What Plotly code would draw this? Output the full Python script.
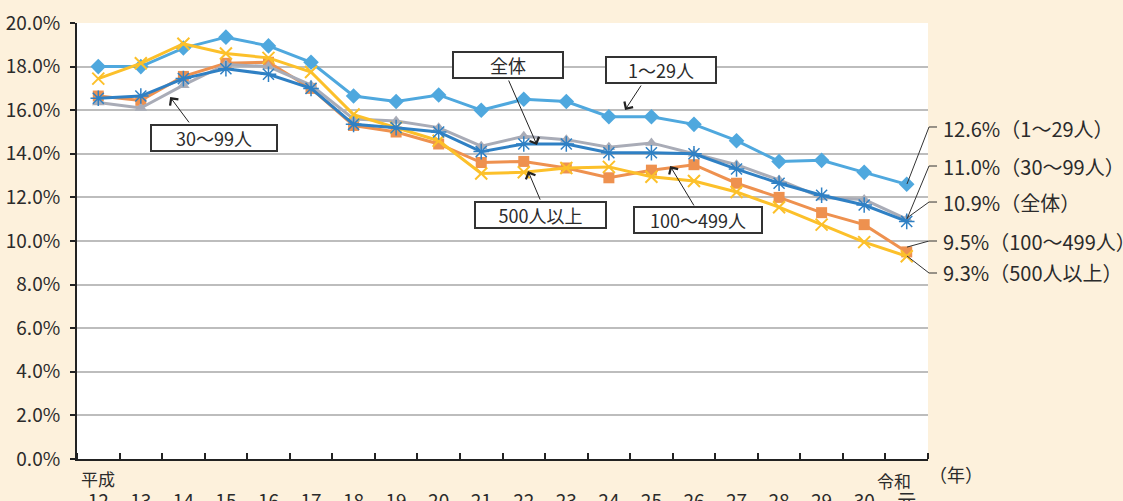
import plotly.graph_objects as go

# 年（平成12年～令和元年）
years = ["12", "13", "14", "15", "16", "17", "18", "19", "20", "21",
         "22", "23", "24", "25", "26", "27", "28", "29", "30", "元"]

# 離職率（%）
rate_1_29 = [18.0, 18.0, 18.85, 19.35, 18.95, 18.2, 16.65, 16.4, 16.7, 16.0,
             16.5, 16.4, 15.7, 15.7, 15.35, 14.6, 13.65, 13.7, 13.15, 12.6]
rate_30_99 = [16.35, 16.1, 17.15, 18.1, 18.0, 17.15, 15.6, 15.5, 15.2, 14.35,
              14.8, 14.65, 14.3, 14.5, 14.0, 13.5, 12.8, 12.0, 11.9, 11.0]
rate_all = [16.55, 16.65, 17.45, 17.9, 17.65, 17.0, 15.35, 15.2, 15.0, 14.1,
            14.45, 14.45, 14.05, 14.05, 14.0, 13.3, 12.65, 12.1, 11.65, 10.9]
rate_100_499 = [16.65, 16.45, 17.55, 18.15, 18.2, 17.0, 15.3, 15.0, 14.45, 13.6,
                13.65, 13.35, 12.9, 13.25, 13.5, 12.65, 12.0, 11.3, 10.75, 9.5]
rate_500 = [17.45, 18.15, 19.05, 18.6, 18.4, 17.75, 15.8, 15.2, 14.6, 13.1,
            13.15, 13.35, 13.4, 12.95, 12.75, 12.25, 11.55, 10.75, 9.95, 9.3]

end_labels = ["12.6%（1〜29人）", "11.0%（30〜99人）", "10.9%（全体）",
              "9.5%（100〜499人）", "9.3%（500人以上）"]

FONT = "Noto Sans CJK JP"
TXT = "#2b2b2b"
x = list(range(len(years)))

fig = go.Figure()

series = [
    ("1〜29人", rate_1_29, "#4fa8de", dict(symbol="diamond", size=12)),
    ("100〜499人", rate_100_499, "#ee914f", dict(symbol="square", size=11)),
    ("30〜99人", rate_30_99, "#a9acb7", dict(symbol="triangle-up", size=11)),
    ("500人以上", rate_500, "#fcc02a", dict(symbol="x-thin", size=12)),
    ("全体", rate_all, "#2f80c4", dict(symbol="asterisk", size=13)),
]
for name, vals, col, mk in series:
    mk = dict(mk, color=col, line=dict(color=col, width=2 if "thin" in mk["symbol"] else 1.5))
    if mk["symbol"] in ("diamond", "square", "triangle-up"):
        mk["line"] = dict(width=0)
    fig.add_trace(go.Scatter(x=x, y=vals, name=name, mode="lines+markers",
                             line=dict(color=col, width=3), marker=mk))

# boxed labels with arrows: (text, box x, box y, width, tail x, tail y, head x, head y)
boxes = [
    ("全体", 9.63, 18.07, 106, 9.63, 17.43, 10.31, 14.4),
    ("1〜29人", 13.22, 17.84, 106, 12.78, 17.2, 12.38, 16.01),
    ("30〜99人", 2.72, 14.72, 122, 2.16, 15.37, 1.69, 16.6),
    ("500人以上", 10.4, 11.19, 127, 10.4, 11.83, 10.1, 13.21),
    ("100〜499人", 14.09, 10.96, 124, 14.02, 11.56, 13.44, 13.44),
]
for t, bx, by, w, tx, ty, hx, hy in boxes:
    fig.add_annotation(x=hx, y=hy, ax=tx, ay=ty, axref="x", ayref="y", text="",
                       showarrow=True, arrowhead=4, arrowsize=2.0, arrowwidth=1,
                       arrowcolor="#222")
    fig.add_annotation(x=bx, y=by, text=t, showarrow=False, width=w, height=22,
                       bgcolor="white", bordercolor="#333", borderwidth=2, borderpad=1,
                       font=dict(family=FONT, size=18, color=TXT))

# end labels and leader lines (paper coords)
label_y = [0.759, 0.672, 0.589, 0.498, 0.428]
leader = [(0.6307, 0.7615), (0.5505, 0.672), (0.5528, 0.5894), (0.486, 0.5), (0.4656, 0.4266)]
for t, ly, (y0, y1) in zip(end_labels, label_y, leader):
    fig.add_annotation(xref="paper", yref="paper", x=1.0155, y=ly, text=t,
                       showarrow=False, xanchor="left", yanchor="middle",
                       font=dict(family=FONT, size=20, color=TXT))
    fig.add_shape(type="path", xref="paper", yref="paper",
                  path=f"M 0.9753,{y0} L 1.0012,{y1} L 1.0106,{y1}",
                  line=dict(color="#333", width=1))

# era labels above axis numbers
fig.add_annotation(xref="x", yref="paper", x=0, y=-0.044, text="平成", showarrow=False,
                   font=dict(family=FONT, size=17, color=TXT), yanchor="middle")
fig.add_annotation(xref="x", yref="paper", x=18.7, y=-0.05, text="令和", showarrow=False,
                   font=dict(family=FONT, size=17, color=TXT), yanchor="middle")
fig.add_annotation(xref="paper", yref="paper", x=1.067, y=-0.069, text="（年）",
                   showarrow=False, font=dict(family=FONT, size=18, color=TXT))

fig.update_layout(
    width=1123, height=501,
    margin=dict(l=77, r=195, t=23, b=42),
    paper_bgcolor="#fdf1dc", plot_bgcolor="white",
    showlegend=False,
    font=dict(family=FONT, color=TXT),
    xaxis=dict(range=[-0.5, 19.5], tickmode="array", tickvals=x, ticktext=years,
               ticks="", showline=True, linecolor="#222", linewidth=2,
               showgrid=False, zeroline=False, ticklabelstandoff=24, automargin=False,
               tickfont=dict(size=19, color=TXT),
               minor=dict(tickmode="array", tickvals=[k + 0.5 for k in range(-1, 20)],
                          ticks="inside", ticklen=6, tickcolor="#222", tickwidth=1.5,
                          showgrid=False)),
    yaxis=dict(range=[0, 20], dtick=2, tickformat=".1f", ticksuffix="%",
               ticks="outside", ticklen=5, tickcolor="#222", tickwidth=1.5,
               showline=True, linecolor="#222", linewidth=2, automargin=False,
               gridcolor="#bdbdbd", gridwidth=1.5, zeroline=False,
               ticklabelstandoff=6, tickfont=dict(size=19, color=TXT)),
)

fig.write_html("out.html", config={"displayModeBar": False},
               post_script="document.body.style.margin='0';document.body.style.overflow='hidden';")
